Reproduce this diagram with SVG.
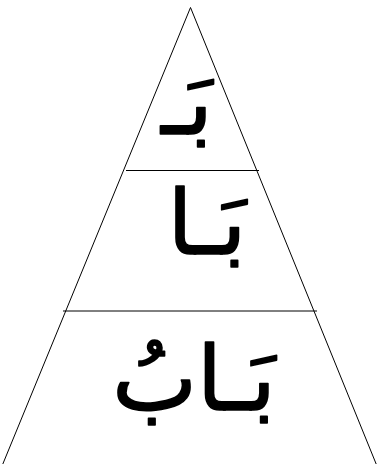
<svg xmlns="http://www.w3.org/2000/svg" width="379" height="464" viewBox="0 0 379 464">
<style>
.ln{stroke:#000;stroke-width:1;fill:none}
.ar{font-family:"DejaVu Sans",sans-serif;font-size:90px;fill:#000;stroke:#000;stroke-width:1.6;stroke-linejoin:round;text-anchor:middle}
</style>
<rect width="379" height="464" fill="#fff"/>
<g id="triangle">
<polyline class="ln" points="2,466 190.5,7.5 377,466"/>
<line class="ln" x1="126" y1="170.5" x2="259" y2="170.5"/>
<line class="ln" x1="63" y1="311" x2="317" y2="311"/>
</g>
<g id="top"><text class="ar" x="187" y="134" direction="rtl">بَـ</text></g>
<g id="middle"><text class="ar" x="207" y="254" direction="rtl">بَـا</text></g>
<g id="bottom"><text class="ar" x="194" y="410" direction="rtl">بَـابُ</text></g>
</svg>
